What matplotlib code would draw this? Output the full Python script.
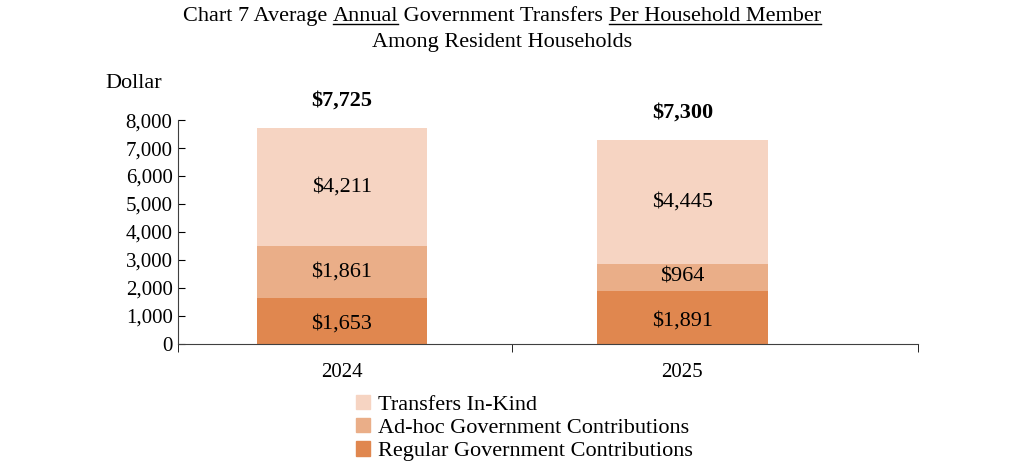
import matplotlib
matplotlib.use("Agg")
import matplotlib.pyplot as plt
from matplotlib.patches import Patch
from matplotlib.lines import Line2D

years = ["2024", "2025"]
regular = [1653, 1891]
adhoc = [1861, 964]
inkind = [4211, 4445]
totals = [7725, 7300]

COLORS = {"regular": "#E0874F", "adhoc": "#EAAE88", "inkind": "#F6D4C2"}

plt.rcParams.update({
    "font.family": "Liberation Serif",
    "font.size": 15,
})

fig = plt.figure(figsize=(10.24, 4.71), dpi=100)
ax = fig.add_axes([0.174, 0.270, 0.722, 0.475])

x = [0, 1]
w = 0.5
ax.bar(x, regular, w, color=COLORS["regular"])
ax.bar(x, adhoc, w, bottom=regular, color=COLORS["adhoc"])
base2 = [r + a for r, a in zip(regular, adhoc)]
ax.bar(x, inkind, w, bottom=base2, color=COLORS["inkind"])

for i in x:
    ax.text(i, regular[i] / 2 - 120, f"\\${regular[i]:,}", ha="center", va="center", fontsize=16)
    ax.text(i, regular[i] + adhoc[i] / 2, f"\\${adhoc[i]:,}", ha="center", va="center", fontsize=16)
    ax.text(i, base2[i] + inkind[i] / 2, f"\\${inkind[i]:,}", ha="center", va="center", fontsize=16)
    ax.text(i, totals[i] + 600, f"\\${totals[i]:,}", ha="center", va="bottom",
            fontsize=16, fontweight="bold")

ax.set_xlim(-0.48, 1.69)
ax.set_ylim(0, 8000)
ax.set_yticks(range(0, 8001, 1000))
ax.set_yticklabels([f"{v:,}" for v in range(0, 8001, 1000)])
ax.set_xticks(x)
ax.set_xticklabels(years)
ax.tick_params(axis="x", length=0, pad=14)
ax.set_xticks([-0.48, 0.5, 1.69], minor=True)
ax.tick_params(axis="x", which="minor", length=6, direction="out")
ax.tick_params(axis="y", length=5, direction="in", pad=4)
for s in ["top", "right"]:
    ax.spines[s].set_visible(False)
for s in ["left", "bottom"]:
    ax.spines[s].set_color("#404040")

fig.text(0.103, 0.813, "Dollar", fontsize=16)

# title line 1 built from pieces so two phrases can be underlined
pieces = [("Chart 7 Average ", False), ("Annual", True), (" Government Transfers ", False),
          ("Per Household Member", True)]
renderer = fig.canvas.get_renderer()
texts = []
for s, _ in pieces:
    t = fig.text(0, 0.955, s, ha="left", va="baseline", fontsize=16)
    texts.append(t)
widths = [t.get_window_extent(renderer).width / fig.bbox.width for t in texts]
xpos = 0.49 - sum(widths) / 2
for t, wd, (s, ul) in zip(texts, widths, pieces):
    t.set_x(xpos)
    if ul:
        fig.add_artist(Line2D([xpos, xpos + wd], [0.948, 0.948], color="black", lw=1.0,
                              transform=fig.transFigure))
    xpos += wd
fig.text(0.49, 0.9, "Among Resident Households", ha="center", va="baseline", fontsize=16)

handles = [Patch(color=COLORS["inkind"], label="Transfers In-Kind"),
           Patch(color=COLORS["adhoc"], label="Ad-hoc Government Contributions"),
           Patch(color=COLORS["regular"], label="Regular Government Contributions")]
fig.legend(handles=handles, loc="upper left", bbox_to_anchor=(0.337, 0.185),
           frameon=False, fontsize=16, handlelength=0.6, handleheight=0.6,
           handletextpad=0.4, labelspacing=0.15, borderpad=0)

fig.savefig("out.png", dpi=100)
